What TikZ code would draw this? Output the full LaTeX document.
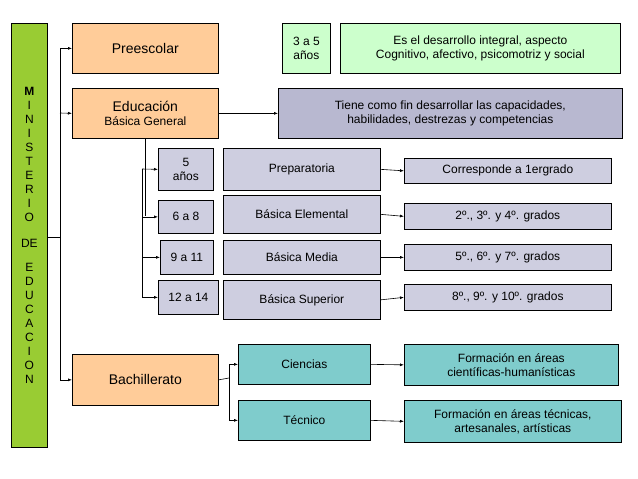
\documentclass[tikz,border=0pt]{standalone}
\usepackage{fontspec}
\setmainfont{Liberation Sans}
\usetikzlibrary{arrows.meta}
\definecolor{minc}{HTML}{99CC33}
\definecolor{orc}{HTML}{FFCC99}
\definecolor{lgc}{HTML}{CCFFCC}
\definecolor{gpc}{HTML}{B8B8D0}
\definecolor{lpc}{HTML}{CECEE0}
\definecolor{tlc}{HTML}{7FCCCC}
\tikzset{
 bx/.style={draw=black,line width=0.7pt,anchor=north west,inner sep=1pt,align=center,font=\fontsize{12}{14}\selectfont},
 ar/.style={-{Latex[length=4pt,width=3pt]},line width=0.6pt},
 ln/.style={line width=0.6pt}
}
\newcommand{\bxat}[7]{\node[bx,fill=#6,minimum width=#4-#2,minimum height=#5-#3] (#1) at (#2,#3) {#7};}
\begin{document}
\begin{tikzpicture}[x=1pt,y=-1pt]
\useasboundingbox (0,0) rectangle (638,479);
\bxat{min}{11}{23}{47}{447}{minc}{\bfseries M\\I\\N\\I\\S\\T\\E\\R\\I\\O\\[12pt]DE\\[10pt]E\\D\\U\\C\\A\\C\\I\\O\\N}
\bxat{pre}{72}{23}{218}{73}{orc}{\fontsize{14}{17}\selectfont Preescolar}
\bxat{ebg}{72}{88}{218}{138}{orc}{\fontsize{14}{17}\selectfont Educación\\Básica General}
\bxat{bac}{72}{354}{218}{405}{orc}{\fontsize{14}{17}\selectfont Bachillerato}
\bxat{tres}{282}{23}{330}{73}{lgc}{3 a 5\\años}
\bxat{des}{340}{23}{620}{73}{lgc}{Es el desarrollo integral, aspecto\\Cognitivo, afectivo, psicomotriz y social}
\bxat{tie}{278}{88}{622}{138}{gpc}{Tiene como fin desarrollar las capacidades,\\habilidades, destrezas y competencias}
\bxat{a5}{158}{148}{213}{190}{lpc}{5\\años}
\bxat{prep}{223}{148}{380}{190}{lpc}{Preparatoria}
\bxat{a6}{158}{200}{213}{233}{lpc}{6 a 8}
\bxat{bel}{223}{195}{380}{233}{lpc}{Básica Elemental}
\bxat{a9}{160}{240}{213}{274}{lpc}{9 a 11}
\bxat{bme}{223}{240}{380}{274}{lpc}{Básica Media}
\bxat{a12}{158}{280}{218}{314}{lpc}{12 a 14}
\bxat{bsu}{223}{280}{380}{319}{lpc}{Básica Superior}
\bxat{g1}{404}{158}{611}{183}{lpc}{Corresponde a 1ergrado}
\bxat{g2}{404}{203}{611}{229}{lpc}{2º., 3º. y 4º. grados}
\bxat{g3}{404}{244}{611}{270}{lpc}{5º., 6º. y 7º. grados}
\bxat{g4}{404}{284}{611}{310}{lpc}{8º., 9º. y 10º. grados}
\bxat{cie}{238}{344}{370}{384}{tlc}{Ciencias}
\bxat{tec}{238}{400}{370}{440}{tlc}{Técnico}
\bxat{f1}{404}{344}{618}{385}{tlc}{Formación en áreas\\científicas-humanísticas}
\bxat{f2}{404}{400}{621}{442}{tlc}{Formación en áreas técnicas,\\artesanales, artísticas}
% connectors
\coordinate (mj) at (60,237);
\draw[ln] (min.east |- mj) -- (mj);
\draw[ar] (60,48) |- (pre.west);
\draw[ar] (60,113) -- (ebg.west);
\draw[ar] (60,48) |- (bac.west);
\draw[ar] (ebg.east) -- (tie.west);
\draw[ln] (145,138) -- (145,216);
\draw[ar] (142,169) -- (a5.west);
\draw[ar] (142,169) |- (a6.west);
\draw[ar] (142,169) |- (a9.west);
\draw[ar] (142,169) |- (a12.west);
\draw[ar] (prep.east) -- (g1.west);
\draw[ar] (bel.east) -- (g2.west);
\draw[ar] (bme.east) -- (g3.west);
\draw[ar] (bsu.east) -- (g4.west);
\draw[ln] (bac.east) -- (229,378);
\draw[ar] (229,378) |- (cie.west);
\draw[ar] (229,378) |- (tec.west);
\draw[ar] (cie.east) -- (f1.west);
\draw[ar] (tec.east) -- (f2.west);
\end{tikzpicture}
\end{document}
